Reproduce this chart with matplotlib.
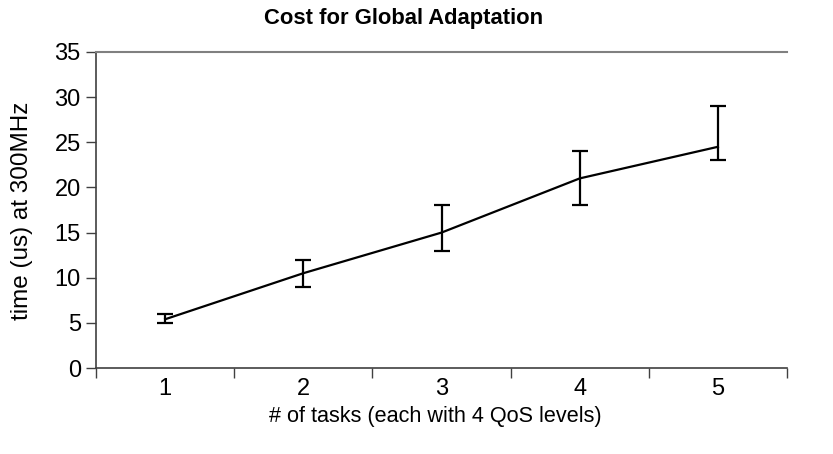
import matplotlib
matplotlib.use("Agg")
import matplotlib.pyplot as plt
from matplotlib.ticker import FixedLocator

plt.rcParams['font.family'] = ['Liberation Sans', 'DejaVu Sans']

# data
tasks = [1, 2, 3, 4, 5]
time_us = [5.4, 10.5, 15.0, 21.0, 24.5]
err_low = [5.0, 9.0, 13.0, 18.0, 23.0]
err_high = [6.0, 12.0, 18.0, 24.0, 29.0]

yerr = [[t - lo for t, lo in zip(time_us, err_low)],
        [hi - t for t, hi in zip(time_us, err_high)]]

fig = plt.figure(figsize=(8.33, 4.54), dpi=100)
ax = fig.add_axes([0.1153, 0.1894, 0.8295, 0.6961])

ax.errorbar(tasks, time_us, yerr=yerr, color='black', linewidth=1.6,
            elinewidth=1.6, capsize=6, capthick=1.6)

ax.set_xlim(0.5, 5.5)
ax.set_ylim(0, 35)
ax.set_yticks(range(0, 36, 5))
ax.set_xticks(tasks)
ax.xaxis.set_minor_locator(FixedLocator([0.5, 1.5, 2.5, 3.5, 4.5, 5.5]))
ax.tick_params(axis='x', which='major', length=0, labelsize=17, pad=7)
ax.tick_params(axis='x', which='minor', length=7, width=1, color='#404040')
ax.tick_params(axis='y', length=7, width=1, color='#404040', labelsize=17, pad=4)

ax.spines['right'].set_visible(False)
ax.spines['top'].set_color('#808080')
ax.spines['top'].set_linewidth(1.5)
for s in ['left', 'bottom']:
    ax.spines[s].set_color('#404040')
    ax.spines[s].set_linewidth(1.2)

fig.text(0.522, 0.083, '# of tasks (each with 4 QoS levels)', fontsize=15.6,
         ha='center', va='center')
fig.text(0.026, 0.535, 'time (us) at 300MHz', fontsize=17.5, rotation=90,
         ha='center', va='center')
fig.text(0.484, 0.96, 'Cost for Global Adaptation', fontsize=15.8,
         fontweight='bold', ha='center', va='center')

fig.savefig('out.png', dpi=100)
